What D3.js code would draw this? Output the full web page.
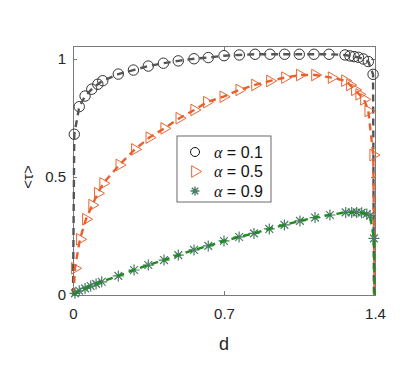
<!DOCTYPE html>
<html>
<head>
<meta charset="utf-8">
<script src="https://cdn.jsdelivr.net/npm/d3@7"></script>
<style>
  body { margin: 0; background: #fff; }
  text { font-family: "Liberation Sans", Arial, sans-serif; }
</style>
</head>
<body>
<div id="chart"></div>
<script>
// alpha = 0.1 (circles)
var d1 = [0.006,0.029,0.056,0.087,0.115,0.138,0.21,0.28,0.349,0.419,0.488,0.561,0.627,0.70,0.771,0.844,0.913,0.981,1.049,1.117,1.187,1.261,1.284,1.303,1.323,1.346,1.369,1.391]
var t1 = [0.681,0.798,0.843,0.872,0.893,0.908,0.936,0.953,0.970,0.982,0.992,1.001,1.006,1.014,1.017,1.02,1.02,1.02,1.02,1.02,1.02,1.017,1.013,1.01,1.007,1.0,0.989,0.935]
// alpha = 0.5 (triangles)
var d2 = [0.009,0.032,0.060,0.089,0.115,0.140,0.215,0.287,0.354,0.423,0.493,0.562,0.621,0.697,0.771,0.844,0.913,0.983,1.052,1.122,1.199,1.261,1.284,1.307,1.327,1.349,1.369,1.392]
var t2 = [0.113,0.236,0.321,0.381,0.431,0.473,0.551,0.617,0.667,0.706,0.749,0.784,0.817,0.840,0.869,0.890,0.907,0.921,0.932,0.932,0.921,0.908,0.890,0.869,0.850,0.829,0.780,0.593]
// alpha = 0.9 (stars)
var d3v = [0.009,0.029,0.056,0.082,0.107,0.133,0.210,0.283,0.349,0.422,0.488,0.561,0.627,0.700,0.770,0.839,0.910,0.980,1.052,1.122,1.191,1.264,1.292,1.315,1.338,1.362,1.377,1.395]
var t3 = [0.007,0.018,0.028,0.038,0.047,0.056,0.081,0.106,0.127,0.148,0.169,0.191,0.208,0.229,0.246,0.261,0.280,0.297,0.314,0.328,0.339,0.350,0.350,0.350,0.349,0.343,0.336,0.240]

var xTicks = [0, 0.7, 1.4]
var yTicks = [0, 0.5, 1]
var labels = ["0.1", "0.5", "0.9"]

var width = 407, height = 366
var margin = {top: 46, right: 32, bottom: 71, left: 73}

var x = d3.scaleLinear().domain([0, 1.4]).range([margin.left, width - margin.right])
var y = d3.scaleLinear().domain([0, 1.055]).range([height - margin.bottom, margin.top])

var svg = d3.select("#chart").append("svg")
    .attr("width", width)
    .attr("height", height)

var boxColor = "#7a7a7a"

// axes (ticks inward, box style)
svg.append("g")
    .attr("transform", "translate(0," + y(0) + ")")
    .call(d3.axisBottom(x).tickValues(xTicks).tickSize(-4).tickPadding(13).tickFormat(d3.format("")))
svg.append("g")
    .attr("transform", "translate(0," + y.range()[1] + ")")
    .call(d3.axisTop(x).tickValues(xTicks).tickSize(-4).tickFormat(""))
svg.append("g")
    .attr("transform", "translate(" + x(0) + ",0)")
    .call(d3.axisLeft(y).tickValues(yTicks).tickSize(-4).tickPadding(7).tickFormat(d3.format("")))
svg.append("g")
    .attr("transform", "translate(" + x(1.4) + ",0)")
    .call(d3.axisRight(y).tickValues(yTicks).tickSize(-4).tickFormat(""))

svg.selectAll(".domain").attr("stroke", boxColor)
svg.selectAll(".tick line").attr("stroke", boxColor)
svg.selectAll(".tick text").attr("font-size", 15).attr("fill", "#262626")
    .style("font-family", "Liberation Sans, Arial, sans-serif")

// axis labels
svg.append("text")
    .attr("x", x(0.7))
    .attr("y", 350)
    .attr("text-anchor", "middle")
    .attr("font-size", 18)
    .attr("fill", "#262626")
    .text("d")

svg.append("text")
    .attr("transform", "translate(33," + y(0.5) + ") rotate(-90)")
    .attr("text-anchor", "middle")
    .attr("font-size", 15)
    .attr("fill", "#262626")
    .text("<τ>")

// lines, each closed down to zero at both ends
var line = d3.line().x(d => x(d[0])).y(d => y(d[1]))
function withEnds(ds, ts, dl, dr) {
    var pts = [[dl, 0]]
    ds.forEach((d, i) => pts.push([d, ts[i]]))
    pts.push([dr, 0])
    return pts
}

var series = [
    {ds: d1, ts: t1, line: "#555555", dl: 0.0, dr: 1.395},
    {ds: d2, ts: t2, line: "#ea5f2c", dl: 0.003, dr: 1.398},
    {ds: d3v, ts: t3, line: "#1e8c1e", dl: 0.003, dr: 1.398}
]

var clr1 = "#333333", clr2 = "#ec6431", clr3 = "#4a7c66"

var tri = d3.symbol().type(d3.symbolTriangle).size(58)()
function star(r) {
    var s = r * Math.SQRT1_2
    return "M" + (-r) + ",0L" + r + ",0M0," + (-r) + "L0," + r +
        "M" + (-s) + "," + (-s) + "L" + s + "," + s + "M" + (-s) + "," + s + "L" + s + "," + (-s)
}

// draw each series: markers then line on top (as in reference)
function drawMarkers(i) {
    var s = series[i]
    var g = svg.append("g")
    if (i == 0) {
        g.selectAll("circle").data(s.ds).enter().append("circle")
            .attr("cx", d => x(d)).attr("cy", (d, j) => y(s.ts[j]))
            .attr("r", 5.2).attr("fill", "none").attr("stroke", clr1).attr("stroke-width", 1)
    } else if (i == 1) {
        g.selectAll("path").data(s.ds).enter().append("path")
            .attr("d", tri)
            .attr("transform", (d, j) => "translate(" + x(d) + "," + y(s.ts[j]) + ") rotate(90)")
            .attr("fill", "none").attr("stroke", clr2).attr("stroke-width", 1)
    } else {
        g.selectAll("path").data(s.ds).enter().append("path")
            .attr("d", star(5.5))
            .attr("transform", (d, j) => "translate(" + x(d) + "," + y(s.ts[j]) + ")")
            .attr("fill", "none").attr("stroke", clr3).attr("stroke-width", 1.2)
    }
}
function drawLine(i) {
    var s = series[i]
    svg.append("path")
        .datum(withEnds(s.ds, s.ts, s.dl, s.dr))
        .attr("d", line)
        .attr("fill", "none")
        .attr("stroke", s.line)
        .attr("stroke-width", 2.4)
        .attr("stroke-dasharray", "7,5")
}
[0, 1, 2].forEach(i => { drawMarkers(i); drawLine(i) })

// legend
var lg = svg.append("g").attr("transform", "translate(177,136)")
lg.append("rect")
    .attr("width", 94).attr("height", 66)
    .attr("fill", "#fff").attr("stroke", "#444").attr("stroke-width", 0.8)
labels.forEach(function(l, i) {
    var cy = 16 + i * 19.5
    if (i == 0) {
        lg.append("circle").attr("cx", 18).attr("cy", cy).attr("r", 4.5)
            .attr("fill", "none").attr("stroke", "#111").attr("stroke-width", 1)
    } else if (i == 1) {
        lg.append("path").attr("d", tri)
            .attr("transform", "translate(18," + cy + ") rotate(90)")
            .attr("fill", "none").attr("stroke", clr2).attr("stroke-width", 1)
    } else {
        lg.append("path").attr("d", star(4.5))
            .attr("transform", "translate(18," + cy + ")")
            .attr("fill", "none").attr("stroke", clr3).attr("stroke-width", 1.4)
    }
    var t = lg.append("text").attr("x", 37).attr("y", cy + 5.5)
        .attr("font-size", 16).attr("fill", "#111")
    t.append("tspan").attr("font-style", "italic")
        .style("font-family", "Liberation Serif, serif").text("α")
    t.append("tspan").text(" = " + l)
})
</script>
</body>
</html>
